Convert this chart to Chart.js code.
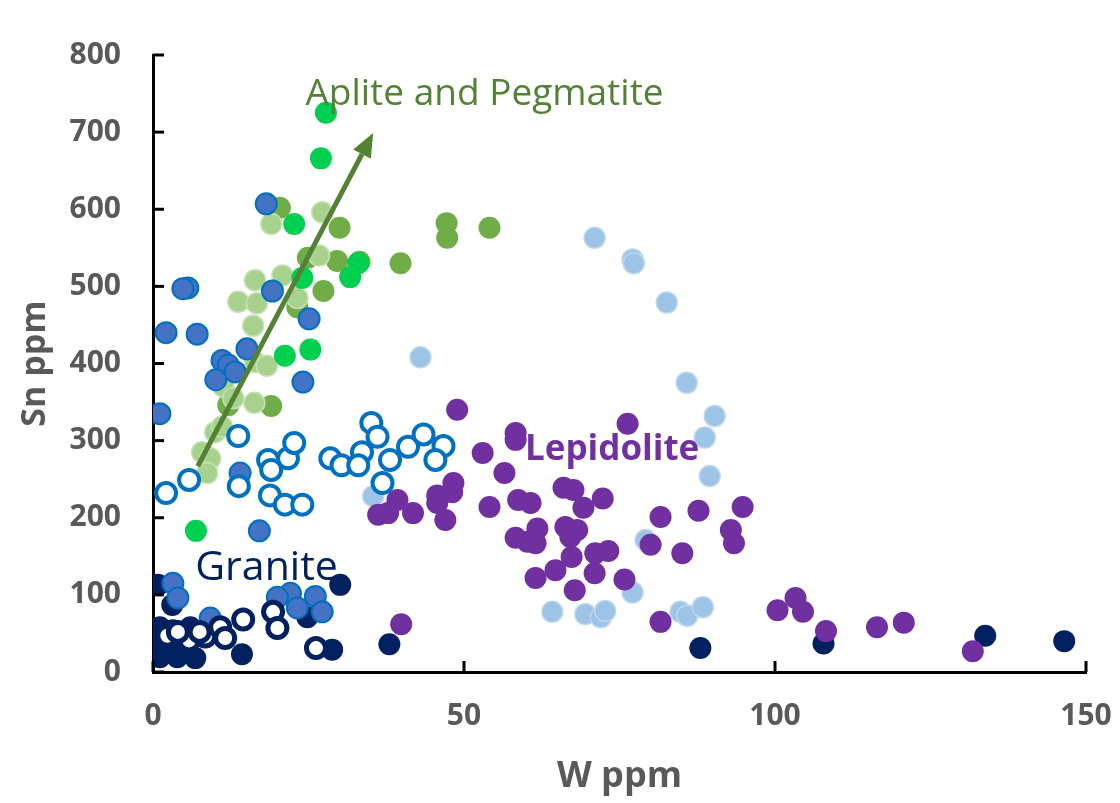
<!DOCTYPE html>
<html>
<head>
<meta charset="utf-8">
<script src="https://cdn.jsdelivr.net/npm/chart.js@4/dist/chart.umd.min.js"></script>
<style>
  html, body { margin: 0; padding: 0; background: #fff; }
  #wrap { width: 1120px; height: 803px; }
</style>
</head>
<body>
<div id="wrap"><canvas id="snChart" width="1120" height="803"></canvas></div>
<script>
// [W ppm, Sn ppm] pairs
let lepidolite = [[48.9,340],[58.3,310],[58.3,301],[76.3,322],[53.0,284],[56.5,258],[39.3,223],[36.2,204],[37.8,206],[41.8,206],
  [45.7,229],[48.3,245],[48.1,233],[47.0,197],[45.7,219],[54.1,214],[58.7,223],[60.7,219],[66.0,239],[67.6,236],
  [69.2,213],[72.3,225],[81.6,201],[87.7,209],[94.8,214],[92.9,184],[93.4,167],[61.8,186],[58.3,174],[60.2,169],
  [61.5,167],[66.3,188],[68.2,184],[67.1,175],[67.3,149],[71.1,154],[73.2,157],[80.0,165],[85.1,154],[64.7,132],
  [61.5,122],[71.0,128],[75.8,120],[67.8,106],[81.6,65],[39.9,62],[100.4,80],[103.3,96],[104.5,78],[108.2,53],
  [116.4,58],[120.7,64],[131.8,27]];
let graniteOpen = [[2.3,47],[5.8,41],[8.4,46],[10.8,58],[11.6,44],[14.5,68],[19.3,78],[20.0,57],[26.2,31],[4.0,52],[7.5,52]];
let blueOpen = [[2.1,232],[5.8,249],[13.7,306],[13.8,241],[18.5,275],[19.0,262],[21.7,277],[22.7,297],[18.8,229],[21.2,217],
  [24.0,217],[28.5,277],[30.3,268],[35.1,323],[36.1,305],[33.6,285],[33.0,268],[36.9,245],[38.1,275],[41.0,292],
  [43.5,308],[46.7,293],[45.4,275]];
let blueFilled = [[18.2,607],[5.6,498],[4.8,497],[19.2,494],[25.1,458],[2.1,440],[7.1,438],[15.1,419],[11.1,404],[12.1,398],
  [13.2,389],[10.1,379],[24.1,376],[1.1,335],[14.0,258],[17.1,183],[3.2,115],[4.0,96],[9.2,70],[22.1,102],
  [23.2,83],[26.1,98],[27.2,78],[20.0,97]];
let graniteFilled = [[0.8,113],[30.1,113],[3.1,87],[14.3,23],[28.8,29],[24.8,71],[1.1,58],[1.1,19],[3.9,19],[6.8,18],
  [0.3,41],[3.2,54],[6.0,58],[2.0,35],[5.0,30],[38.0,36],[88.0,31],[107.8,37],[133.8,47],[146.5,40]];
let lightBlue = [[71.0,563],[77.1,535],[77.3,530],[82.6,479],[85.8,375],[90.3,332],[88.7,304],[89.5,254],[43.0,408],[35.4,228],
  [79.2,171],[77.1,103],[64.2,78],[69.5,75],[72.0,71],[72.7,79],[84.8,78],[85.9,73],[88.4,84]];
let brightGreen = [[27.8,725],[27.0,666],[22.7,581],[24.0,511],[33.0,530],[31.7,512],[21.2,410],[25.3,418],[6.9,183]];
let lightGreen = [[27.2,596],[19.0,581],[26.7,540],[16.4,508],[20.8,514],[13.7,480],[16.7,478],[23.2,485],[16.1,449],[16.4,402],
  [18.3,397],[11.3,370],[12.9,355],[16.3,349],[10.0,311],[11.1,318],[7.9,285],[9.2,277],[8.7,258]];
let midGreen = [[20.4,602],[30.0,576],[24.9,537],[29.6,533],[33.2,532],[27.4,494],[39.8,530],[47.2,582],[47.3,563],[54.1,576],
  [23.2,473],[12.1,346],[19.0,345]];

let xTicks = [0, 50, 100, 150];
let yTicks = [0, 100, 200, 300, 400, 500, 600, 700, 800];

// arrow: start and tip in data units
let trendArrow = [[7.2, 267], [35.4, 699]];

let labels = [
  { text: 'Aplite and Pegmatite', at: [24.5, 735], color: '#548235', font: '37px "Open Sans"' },
  { text: 'Lepidolite', at: [59.8, 275], color: '#7030A0', font: 'bold 35px "Open Sans"' },
  { text: 'Granite', at: [6.8, 119], color: '#002060', font: '41px "Open Sans"' }
];

function toPoints(arr) {
  return arr.map(function(p) { return { x: p[0], y: p[1] }; });
}

function series(name, arr, fill, border, bw, r) {
  return {
    label: name,
    data: toPoints(arr),
    backgroundColor: fill,
    borderColor: border,
    borderWidth: bw,
    pointRadius: r,
    pointHoverRadius: r
  };
}

let extras = {
  id: 'extras',
  afterDraw(chart) {
    let ctx = chart.ctx;
    let xs = chart.scales.x;
    let ys = chart.scales.y;
    let area = chart.chartArea;
    ctx.save();

    // tick marks point into the plot
    ctx.strokeStyle = '#000';
    ctx.lineWidth = 3;
    yTicks.forEach(function(v) {
      let py = ys.getPixelForValue(v);
      ctx.beginPath();
      ctx.moveTo(area.left, py);
      ctx.lineTo(area.left + 11, py);
      ctx.stroke();
    });
    xTicks.forEach(function(v) {
      let px = xs.getPixelForValue(v);
      ctx.beginPath();
      ctx.moveTo(px, area.bottom);
      ctx.lineTo(px, area.bottom - 11);
      ctx.stroke();
    });

    // trend arrow
    let x0 = xs.getPixelForValue(trendArrow[0][0]), y0 = ys.getPixelForValue(trendArrow[0][1]);
    let x1 = xs.getPixelForValue(trendArrow[1][0]), y1 = ys.getPixelForValue(trendArrow[1][1]);
    let ang = Math.atan2(y1 - y0, x1 - x0);
    let headLen = 24, headHalf = 10;
    let bx = x1 - headLen * Math.cos(ang), by = y1 - headLen * Math.sin(ang);
    ctx.strokeStyle = '#548235';
    ctx.fillStyle = '#548235';
    ctx.lineWidth = 5;
    ctx.beginPath();
    ctx.moveTo(x0, y0);
    ctx.lineTo(bx, by);
    ctx.stroke();
    ctx.beginPath();
    ctx.moveTo(x1, y1);
    ctx.lineTo(bx + headHalf * Math.sin(ang), by - headHalf * Math.cos(ang));
    ctx.lineTo(bx - headHalf * Math.sin(ang), by + headHalf * Math.cos(ang));
    ctx.closePath();
    ctx.fill();

    // group names
    ctx.textAlign = 'left';
    ctx.textBaseline = 'alphabetic';
    labels.forEach(function(l) {
      ctx.font = l.font;
      ctx.fillStyle = l.color;
      ctx.fillText(l.text, xs.getPixelForValue(l.at[0]), ys.getPixelForValue(l.at[1]));
    });
    ctx.restore();
  }
};

let tickFont = { family: 'Open Sans', size: 30, weight: 'bold' };

let snChart = new Chart(document.getElementById('snChart').getContext('2d'), {
  type: 'scatter',
  data: {
    // first dataset is drawn on top
    datasets: [
      series('Lepidolite', lepidolite, '#7030A0', '#7030A0', 0, 11),
      series('Granite (open)', graniteOpen, '#FFFFFF', '#002060', 5, 9.5),
      series('Open blue', blueOpen, '#FFFFFF', '#0070C0', 4, 10),
      series('Blue', blueFilled, '#4472C4', '#0070C0', 2, 10.5),
      series('Granite', graniteFilled, '#002060', '#002060', 0, 11),
      series('Light blue', lightBlue, '#9DC3E6', '#BDD7EE', 1.5, 10.5),
      series('Bright green', brightGreen, '#00D050', '#00D050', 0, 11),
      series('Light green', lightGreen, '#A9D18E', '#C5E0B4', 1.5, 10.5),
      series('Green', midGreen, '#70AD47', '#70AD47', 0, 11)
    ]
  },
  options: {
    responsive: false,
    animation: false,
    devicePixelRatio: 1,
    layout: { padding: { top: 55, right: 34, left: 0, bottom: 0 } },
    plugins: {
      legend: { display: false },
      tooltip: { enabled: false }
    },
    scales: {
      x: {
        type: 'linear',
        min: 0,
        max: 150,
        afterBuildTicks: function(scale) { scale.ticks = xTicks.map(function(v) { return { value: v }; }); },
        afterFit: function(scale) {
          scale.height = 131;
          scale.paddingLeft = 0;
          scale.paddingRight = 0;
        },
        grid: { drawOnChartArea: false, drawTicks: false },
        border: { color: '#000', width: 3 },
        ticks: { color: '#595959', font: tickFont, padding: 26, maxRotation: 0 },
        title: { display: true, text: 'W ppm', color: '#595959', font: { family: 'Open Sans', size: 36, weight: 'bold' }, padding: 5 }
      },
      y: {
        type: 'linear',
        min: 0,
        max: 800,
        afterBuildTicks: function(scale) { scale.ticks = yTicks.map(function(v) { return { value: v }; }); },
        afterFit: function(scale) {
          scale.width = 153;
          scale.paddingTop = 0;
          scale.paddingBottom = 0;
        },
        grid: { drawOnChartArea: false, drawTicks: false },
        border: { color: '#000', width: 3 },
        ticks: { color: '#595959', font: tickFont, padding: 32 },
        title: { display: true, text: 'Sn ppm', color: '#595959', font: { family: 'Open Sans', size: 34, weight: 'bold' }, padding: 15 }
      }
    }
  },
  plugins: [extras]
});
</script>
</body>
</html>
